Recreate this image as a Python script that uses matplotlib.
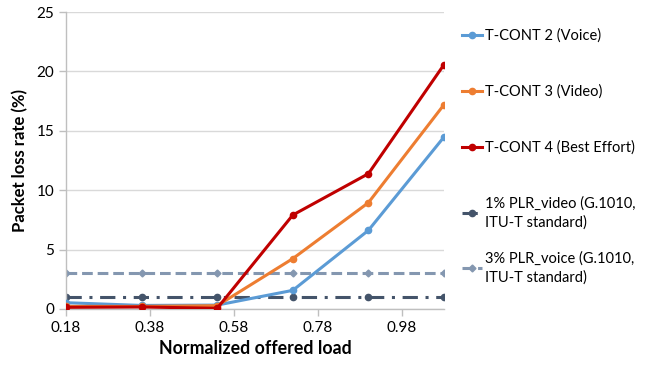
import numpy as np
import matplotlib
matplotlib.use('Agg')
import matplotlib.pyplot as plt

plt.rcParams['font.family'] = ['Lato', 'DejaVu Sans']

# Data
load = [0.18, 0.36, 0.54, 0.72, 0.90, 1.08]
voice = [0.53, 0.30, 0.33, 1.57, 6.62, 14.48]
video = [0.22, 0.22, 0.28, 4.24, 8.95, 17.2]
best_effort = [0.14, 0.17, 0.06, 7.91, 11.39, 20.57]
plr_video = [1, 1, 1, 1, 1, 1]
plr_voice = [3, 3, 3, 3, 3, 3]

x_ticks = [0.18, 0.38, 0.58, 0.78, 0.98]
y_ticks = [0, 5, 10, 15, 20, 25]

fig = plt.figure(figsize=(6.62, 3.68), dpi=100)
ax = fig.add_axes([66 / 662, 1 - 309 / 368, (444 - 66) / 662, (309 - 12) / 368])

ax.plot(load, plr_voice, color='#8497B0', lw=2.2, ls=(0, (3.5, 1.6)), marker='D', ms=3.5,
        label='3% PLR_voice (G.1010,\nITU-T standard)', zorder=2)
ax.plot(load, plr_video, color='#44546A', lw=2.2, ls=(0, (5, 2.5, 1, 2.5)), marker='o', ms=4.5,
        label='1% PLR_video (G.1010,\nITU-T standard)', zorder=2)
ax.plot(load, voice, color='#5B9BD5', lw=2.2, marker='o', ms=4.5, label='T-CONT 2 (Voice)', zorder=3)
ax.plot(load, video, color='#ED7D31', lw=2.2, marker='o', ms=4.5, label='T-CONT 3 (Video)', zorder=3)
ax.plot(load, best_effort, color='#C00000', lw=2.2, marker='o', ms=4.5, label='T-CONT 4 (Best Effort)', zorder=4)

ax.set_xlim(0.18, 1.08)
ax.set_ylim(0, 25)
ax.set_xticks(x_ticks)
ax.set_xticklabels(['{:.2f}'.format(t) for t in x_ticks])
ax.set_yticks(y_ticks)
ax.yaxis.grid(True, color='#D9D9D9', lw=1)
ax.set_axisbelow(True)
for s in ['top', 'right']:
    ax.spines[s].set_visible(False)
for s in ['left', 'bottom']:
    ax.spines[s].set_color('#BFBFBF')
    ax.spines[s].set_linewidth(1)
ax.tick_params(axis='both', colors='#BFBFBF', labelcolor='#000000', labelsize=11, length=5, width=1)
ax.tick_params(axis='x', pad=4)

ax.set_xlabel('Normalized offered load', fontsize=12.8, fontweight='bold', labelpad=3)
ax.set_ylabel('Packet loss rate (%)', fontsize=12, fontweight='bold', labelpad=6)

# legend entries placed one by one, like the Excel layout
handles, labels = ax.get_legend_handles_labels()
order = [2, 3, 4, 1, 0]
y_centers = [36, 92, 148, 213, 268]
for i, yc in zip(order, y_centers):
    leg = fig.legend([handles[i]], [labels[i]], loc='center left',
                     bbox_to_anchor=(462 / 662, 1 - yc / 368),
                     frameon=False, fontsize=10.5, handlelength=1.4, handletextpad=0.15,
                     borderaxespad=0, borderpad=0)
    for t in leg.get_texts():
        t.set_linespacing(1.4)

fig.savefig('out.png', dpi=100)
